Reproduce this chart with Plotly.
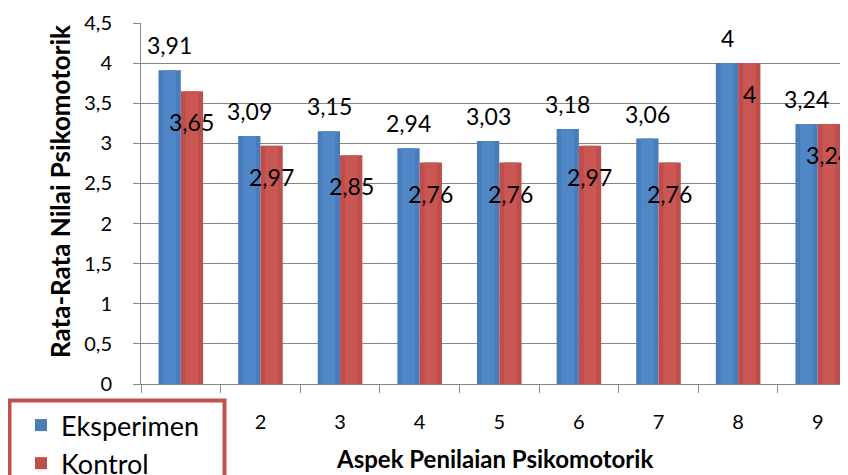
import plotly.graph_objects as go

categories = ["1", "2", "3", "4", "5", "6", "7", "8", "9"]
eksperimen = [3.91, 3.09, 3.15, 2.94, 3.03, 3.18, 3.06, 4, 3.24]
kontrol = [3.65, 2.97, 2.85, 2.76, 2.76, 2.97, 2.76, 4, 3.24]
y_ticks = [0, 0.5, 1, 1.5, 2, 2.5, 3, 3.5, 4, 4.5]

BLUE = "#4A7CB9"
BLUE_LIGHT = "#5087C8"
RED = "#BD4E4B"
RED_LIGHT = "#CB5754"
BORDER = "#C0504D"
GRID = "#878787"
FONT = "Lato"

# page body has an 8px margin; the figure is sized so it fills the 848x475 window
OFF = 8
W, H = 848 - OFF, 475 - OFF
L, T = 141 - OFF, 23 - OFF
B = H - (384 - OFF)
PW, PH = W - L, H - T - B


def px_x(x):
    return (x - OFF - L) / PW


def px_y(y):
    return (H - B - (y - OFF)) / PH


def fmt(v):
    return f"{v:g}".replace(".", ",")


BW = 0.28  # width of one bar, in category units

fig = go.Figure()
fig.add_trace(go.Bar(x=categories, y=eksperimen, name="Eksperimen", offset=-BW, width=BW,
                     marker=dict(color=BLUE, line=dict(width=0))))
fig.add_trace(go.Bar(x=categories, y=kontrol, name="Kontrol", offset=0, width=BW,
                     marker=dict(color=RED, line=dict(width=0))))
# lighter centre of each bar, for the shaded column look
fig.add_trace(go.Bar(x=categories, y=eksperimen, offset=-BW + 0.06, width=BW - 0.12,
                     marker=dict(color=BLUE_LIGHT, line=dict(width=0)), showlegend=False,
                     hoverinfo="skip"))
fig.add_trace(go.Bar(x=categories, y=kontrol, offset=0.06, width=BW - 0.12,
                     marker=dict(color=RED_LIGHT, line=dict(width=0)), showlegend=False,
                     hoverinfo="skip"))

annotations = []
for i, v in enumerate(eksperimen):
    annotations.append(dict(x=i, y=v, text=fmt(v), showarrow=False, xshift=-11, yshift=25,
                            font=dict(family=FONT, size=23, color="black")))
for i, v in enumerate(kontrol):
    annotations.append(dict(x=i, y=v, text=fmt(v), showarrow=False, xshift=11, yshift=-31,
                            font=dict(family=FONT, size=23, color="black")))
annotations.append(dict(xref="paper", yref="paper", x=px_x(60), y=px_y(192),
                        xanchor="center", yanchor="middle",
                        text="<b>Rata-Rata Nilai Psikomotorik</b>", textangle=-90, showarrow=False,
                        font=dict(family=FONT, size=26, color="black")))
annotations.append(dict(xref="paper", yref="paper", x=px_x(494), y=px_y(458),
                        xanchor="center", yanchor="middle",
                        text="<b>Aspek Penilaian Psikomotorik</b>", showarrow=False,
                        font=dict(family=FONT, size=24, color="black")))

# frame of the legend box (white fill hides the first category label, as in the original)
shapes = [dict(type="rect", xref="paper", yref="paper", layer="above",
               x0=px_x(9.5), x1=px_x(224.5), y0=px_y(400.5), y1=px_y(520),
               fillcolor="white", line=dict(color=BORDER, width=4))]

fig.update_layout(
    width=W, height=H,
    margin=dict(l=L, r=0, t=T, b=B, pad=0, autoexpand=False),
    paper_bgcolor="white", plot_bgcolor="white",
    barmode="overlay",
    separators=",.",
    font=dict(family=FONT, size=20, color="black"),
    annotations=annotations,
    shapes=shapes,
    showlegend=True,
    legend=dict(x=px_x(10), y=px_y(401), xanchor="left", yanchor="top",
                bgcolor="rgba(0,0,0,0)", borderwidth=0,
                font=dict(family=FONT, size=27, color="black"), indentation=11,
                tracegroupgap=0),
)
fig.update_xaxes(
    type="category", range=[-0.5, 8.38], tickson="boundaries",
    ticks="outside", ticklen=8, tickcolor=GRID, showline=True, linecolor=GRID, linewidth=1,
    showgrid=False, tickfont=dict(family=FONT, size=20), ticklabelstandoff=20,
)
fig.update_yaxes(
    range=[0, 4.5], tickvals=y_ticks, ticks="outside", ticklen=7, tickcolor=GRID,
    showline=True, linecolor=GRID, linewidth=1, showgrid=True, gridcolor=GRID, gridwidth=1,
    zeroline=False, tickfont=dict(family=FONT, size=20), ticklabelstandoff=17,
)

fig.write_html("out.html")
